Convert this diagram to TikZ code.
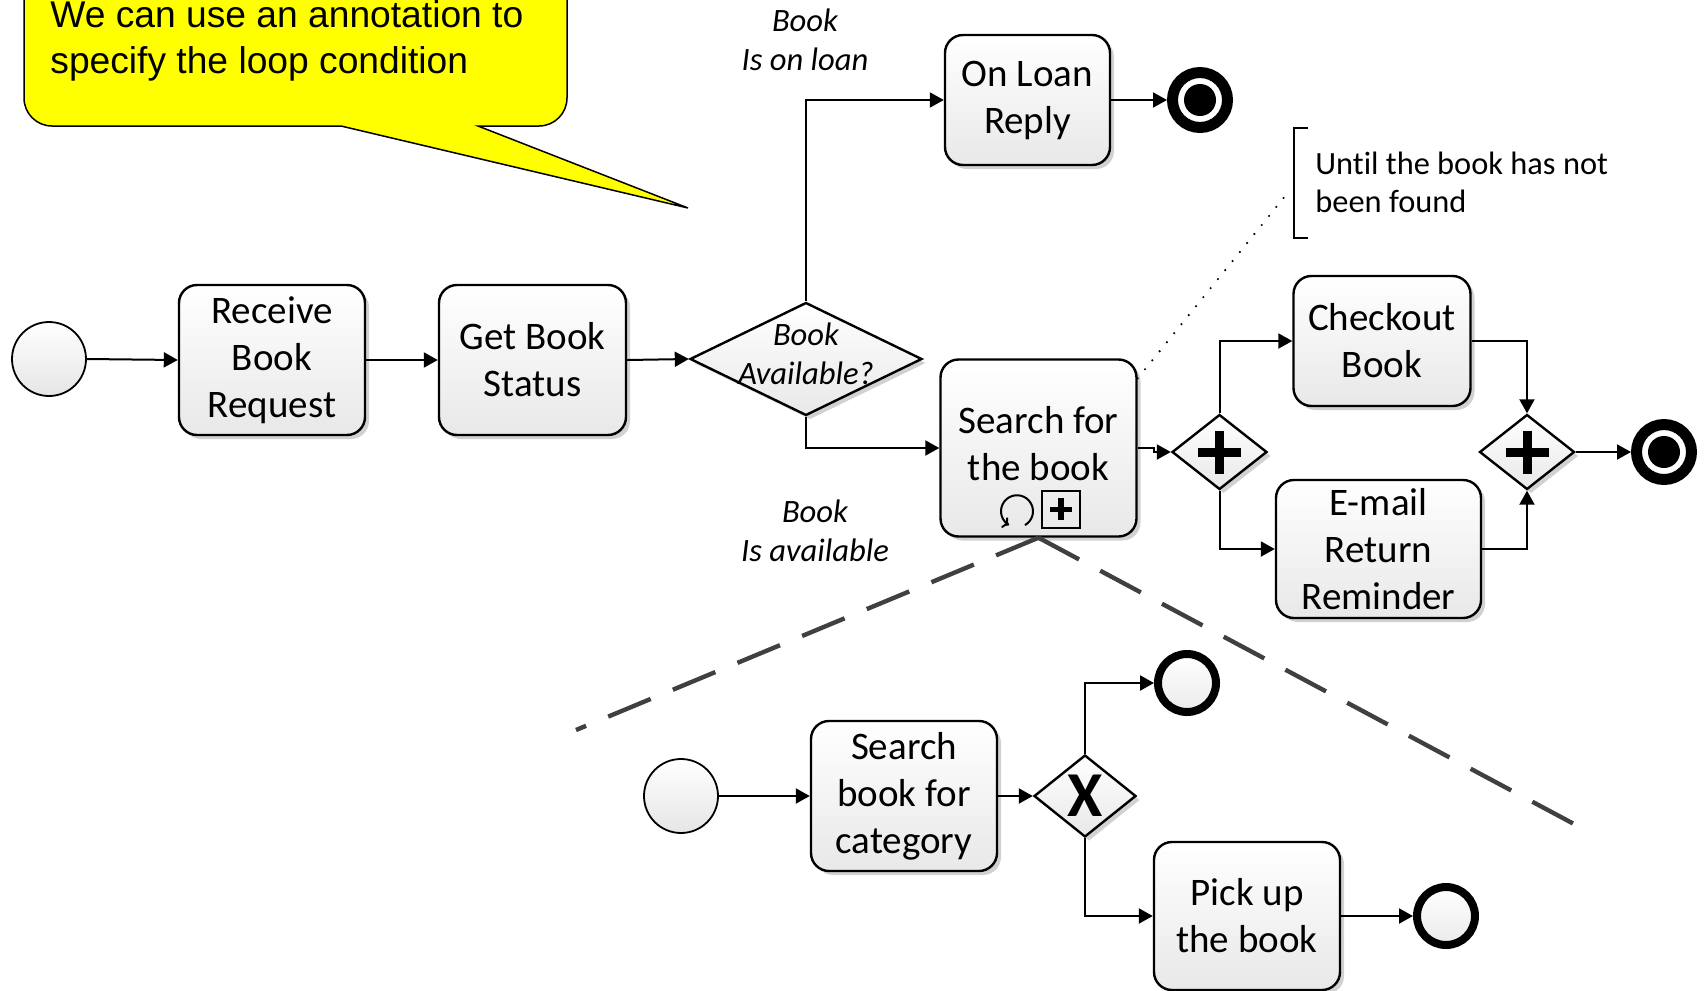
\documentclass[tikz,border=0pt]{standalone}
\usepackage{fontspec}
\setmainfont{Carlito}[Ligatures=NoCommon]
\newfontfamily\calloutfont{Liberation Sans}
\usetikzlibrary{shapes.geometric,arrows.meta,shadows}
\definecolor{callyellow}{RGB}{255,255,0}
\tikzset{
  boxshadow/.style={drop shadow={shadow xshift=2pt,shadow yshift=-2pt,fill=black!18,opacity=1}},
  task/.style={draw,line width=1.2pt,rounded corners=9pt,top color=white,bottom color=black!9,
    align=center,inner sep=0pt,font=\fontsize{19.5pt}{23.5pt}\selectfont,boxshadow},
  gw/.style={diamond,draw,line width=1.2pt,top color=white,bottom color=black!9,inner sep=0pt,boxshadow},
  startev/.style={circle,draw,line width=0.9pt,top color=white,bottom color=black!10,minimum size=37pt,inner sep=0pt},
  endev/.style={circle,draw,line width=4pt,top color=white,bottom color=black!8,minimum size=29pt,inner sep=0pt},
  termev/.style={circle,draw,line width=5.5pt,fill=white,minimum size=27.5pt,inner sep=0pt,
    path picture={\fill[black] (path picture bounding box.center) circle[radius=16];}},
  flow/.style={line width=1pt,-{Triangle[length=7pt,width=7.5pt]}},
  lbl/.style={font=\fontsize{16.3pt}{19.5pt}\selectfont\itshape,align=center,inner sep=0pt},
  plusbar/.style={line width=4.5pt},
  callout/.style={draw=black,fill=callyellow,line width=0.75pt},
  zoomline/.style={draw=black!75,line width=2.2pt,dash pattern=on 23pt off 12pt},
  dotline/.style={line width=1.2pt,line cap=round,dash pattern=on 0pt off 5.8pt},
}
\begin{document}
\begin{tikzpicture}[x=0.5pt,y=-0.5pt]
\useasboundingbox (0,0) rectangle (1704,991);
\clip (0,0) rectangle (1704,991);

% callout
\draw[callout] (24,-40) -- (24,98) arc[start angle=180,end angle=90,radius=28]
  -- (341,126) -- (688,208) -- (478,126) -- (539,126)
  arc[start angle=90,end angle=0,radius=28] -- (567,-40);
\node[anchor=west,align=left,inner sep=0pt,font=\calloutfont\fontsize{18.6pt}{23pt}\selectfont]
  (calltext) at (50,41) {We can use an annotation to\\specify the loop condition};

% main flow
\node[startev] (s1) at (49,359) {};
\node[task,minimum width=93pt,minimum height=75pt] (t1) at (272,360) {Receive\\Book\\Request};
\node[task,minimum width=93.5pt,minimum height=75pt] (t2) at (532.5,360) {Get Book\\Status};
\node[gw,minimum width=116pt,minimum height=56.5pt] (g1) at (806,359) {};
\node[lbl] (l3) at (806,353.5) {Book\\Available?};
\node[task,minimum width=82.5pt,minimum height=65pt] (t3) at (1027.5,100) {On Loan\\Reply};
\node[termev] (e1) at (1200,100) {};
\node[task,minimum width=98pt,minimum height=88.5pt,text depth=5pt] (t4) at (1038.5,448) {Search for\\the book};
\node[gw,minimum width=47.5pt,minimum height=37.5pt] (pg1) at (1219.5,452) {};
\node[task,minimum width=88.5pt,minimum height=65pt] (t5) at (1382,341) {Checkout\\Book};
\node[task,minimum width=102.5pt,minimum height=69pt] (t6) at (1378.5,549) {E-mail\\Return\\Reminder};
\node[gw,minimum width=47.5pt,minimum height=37.5pt] (pg2) at (1527,452) {};
\node[termev] (e2) at (1664,452) {};

\node[lbl] (l1) at (805,39.5) {Book\\Is on loan};
\node[lbl] (l2) at (815,530.5) {Book\\Is available};

% markers of the sub-process
\draw[line width=1pt,-{To[length=3pt,width=6pt]}] ([shift={(-13.5,-12.6)}]t4.south)
  arc[start angle=60,end angle=-240,radius=16];
\node[draw,line width=1pt,minimum width=19pt,minimum height=18.5pt,inner sep=0pt] (pm)
  at ([shift={(22.5,-28.5)}]t4.south) {};
\draw[line width=2.6pt] (pm.center) ++(-11,0) -- ++(22,0);
\draw[line width=2.6pt] (pm.center) ++(0,-11) -- ++(0,22);

% plus signs of the parallel gateways
\draw[plusbar] (pg1.center) ++(-21.5,0) -- ++(43,0);
\draw[plusbar] (pg1.center) ++(0,-21.5) -- ++(0,43);
\draw[plusbar] (pg2.center) ++(-21.5,0) -- ++(43,0);
\draw[plusbar] (pg2.center) ++(0,-21.5) -- ++(0,43);

% annotation
\draw[line width=1.2pt] (1308,128) -- (1294,128) -- (1294,238) -- (1308,238);
\node[anchor=west,align=left,inner sep=0pt,font=\fontsize{16.2pt}{19pt}\selectfont]
  (ann) at (1315,182) {Until the book has not\\been found};
\coordinate (annpt) at (1290,190);
\draw[dotline] ([yshift=-10pt]t4.north east) -- (annpt);

% connectors
\draw[flow] (s1.east) -- (t1.west);
\draw[flow] (t1.east) -- (t2.west);
\draw[flow] (t2.east) -- (g1.west);
\draw[flow] (g1.north) |- (t3.west);
\draw[flow] (t3.east) -- (e1.west);
\draw[flow] (g1.south) |- (t4.west);
\draw[flow] (t4.east) -- ++(16,0) |- (pg1.west);
\draw[flow] (pg1.north) |- (t5.west);
\draw[flow] (pg1.south) |- (t6.west);
\draw[flow] (t5.east) -| (pg2.north);
\draw[flow] (t6.east) -| (pg2.south);
\draw[flow] (pg2.east) -- (e2.west);

% zoom lines
\coordinate (dl) at (576,730);
\coordinate (dr) at (1574,824);
\draw[zoomline] (t4.south) -- (dl);
\draw[zoomline] (t4.south) -- (dr);

% expanded sub-process
\node[startev] (s2) at (681,796) {};
\node[task,minimum width=93pt,minimum height=75pt] (t7) at (904,796) {Search\\book for\\category};
\node[gw,minimum width=51pt,minimum height=41pt,font=\bfseries\fontsize{32pt}{32pt}\selectfont] (xg) at (1085,796) {X};
\node[endev] (e3) at (1187,683) {};
\node[task,minimum width=93pt,minimum height=74pt] (t8) at (1247,916) {Pick up\\the book};
\node[endev] (e4) at (1446,916) {};

\draw[flow] (s2.east) -- (t7.west);
\draw[flow] (t7.east) -- (xg.west);
\draw[flow] (xg.north) |- (e3.west);
\draw[flow] (xg.south) |- (t8.west);
\draw[flow] (t8.east) -- (e4.west);
\end{tikzpicture}
\end{document}
